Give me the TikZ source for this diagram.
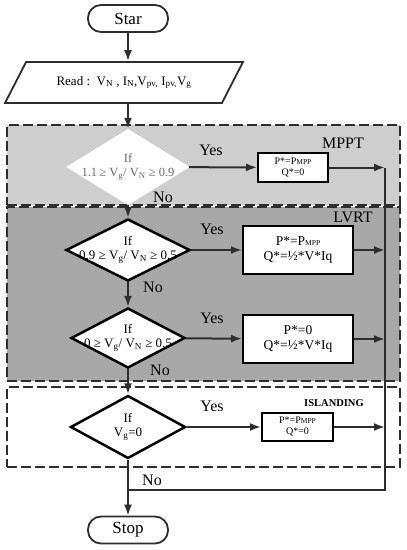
\documentclass[tikz,border=0pt]{standalone}
\usepackage{fontspec}
\setmainfont{Liberation Serif}
\usepackage{tikz}
\usetikzlibrary{positioning,arrows.meta,shapes.geometric}
\definecolor{mpptg}{RGB}{206,206,206}
\definecolor{lvrtg}{RGB}{168,168,168}
\definecolor{ln}{RGB}{45,45,45}
\definecolor{txg}{RGB}{105,105,105}
\newcommand{\sml}[1]{{\fontsize{7.5}{8}\selectfont #1}}

\begin{document}
\begin{tikzpicture}[x=1pt,y=-1pt,font=\fontsize{13}{14}\selectfont,>={Latex[length=11pt,width=8pt]},
  term/.style={draw=ln,line width=1.8pt,rounded corners=13pt,fill=white,minimum width=80pt,minimum height=27pt,font=\fontsize{17}{18}\selectfont},
  io/.style={draw=ln,line width=1.8pt,trapezium,trapezium left angle=52,trapezium right angle=128,trapezium stretches=true,minimum width=238pt,minimum height=41pt,fill=white},
  zone/.style={draw=ln,line width=1.2pt,dash pattern=on 10pt off 4pt,minimum width=393pt,inner sep=0},
  cond/.style={diamond,draw=black,line width=2.5pt,fill=white,inner sep=0},
  ctxt/.style={align=center,inner sep=0,font=\fontsize{13}{14}\selectfont},
  act/.style={draw=black,line width=2pt,fill=white,align=center,inner sep=1pt,font=\fontsize{13.5}{15}\selectfont},
  flow/.style={draw=ln,line width=2pt},
  tag/.style={font=\fontsize{16}{17}\selectfont}]
  \useasboundingbox (0,0) rectangle (407,550);
  \node[zone,fill=mpptg,minimum height=80pt] (mpptz) at (203.5,165) {};
  \node[zone,fill=lvrtg,minimum height=174pt] (lvrtz) at (203.5,294) {};
  \node[zone,fill=white,minimum height=80pt] (islz) at (203.5,427) {};
  \node[tag] (mpptl) at (343,143) {MPPT};
  \node[tag] (lvrtl) at (353,217) {LVRT};
  \node[font=\bfseries\fontsize{10.5}{11}\selectfont] (isll) at (334,403) {ISLANDING};
  \node[term] (star) at (128,18.5) {Star};
  \node[io] (read) at (124,82.5) {Read :\ \ V\textsubscript{N} , I\textsubscript{N},V\textsubscript{pv,} I\textsubscript{pv,}V\textsubscript{g}};
  \node[cond,draw=white,minimum width=120pt,minimum height=74pt,
    label={[ctxt,txg,font=\fontsize{12.5}{13.5}\selectfont]center:If\\1.1\,≥ V\textsubscript{g}/ V\textsubscript{N} ≥ 0.9}] (d1) at (128,167) {};
  \node[cond,minimum width=124pt,minimum height=62pt,
    label={[ctxt]center:If\\0.9 ≥ V\textsubscript{g}/ V\textsubscript{N} ≥ 0.5}] (d2) at (128,250) {};
  \node[cond,minimum width=114pt,minimum height=60pt,
    label={[ctxt]center:If\\0 ≥ V\textsubscript{g}/ V\textsubscript{N} ≥ 0.5}] (d3) at (128,338) {};
  \node[cond,minimum width=115pt,minimum height=63pt,
    label={[ctxt]center:If\\V\textsubscript{g}=0}] (d4) at (128,427) {};
  \node[act,minimum width=70pt,minimum height=29pt,font=\fontsize{10}{11}\selectfont] (a1) at (293,167.5) {P*=P\sml{MPP}\\Q*=0};
  \node[act,minimum width=110pt,minimum height=48pt] (a2) at (298,250) {P*=P\sml{MPP}\\Q*=½*V*Iq};
  \node[act,minimum width=110pt,minimum height=48pt] (a3) at (298,339) {P*=0\\Q*=½*V*Iq};
  \node[act,minimum width=71pt,minimum height=28pt,font=\fontsize{10}{11}\selectfont] (a4) at (297.5,427) {P*=P\sml{MPP}\\Q*=0};
  \node[term] (stop) at (128,530) {Stop};
  \coordinate (j1) at (385,167.5);
  \coordinate (jn) at (385,490);
  \coordinate (mg) at (128,490);
  \node[tag] (y1) at (211,150) {Yes};
  \node[tag] (y2) at (212,229) {Yes};
  \node[tag] (y3) at (212,318) {Yes};
  \node[tag] (y4) at (212,406) {Yes};
  \node[tag] (n1) at (163,197) {No};
  \node[tag] (n2) at (153,287) {No};
  \node[tag] (n3) at (160,370) {No};
  \node[tag] (n4) at (152,480) {No};
  \draw[flow,->] (star) -- (star |- read.north);
  \draw[flow,->] (read.south -| d1) -- (d1.north);
  \draw[flow,->] (d1) -- (d2); \draw[flow,->] (d2) -- (d3);
  \draw[flow,->] (d3) -- (d4); \draw[flow,->] (d4) -- (stop);
  \draw[flow,->] (d1) -- (a1); \draw[flow,->] (d2) -- (a2);
  \draw[flow,->] (d3) -- (a3); \draw[flow,->] (d4) -- (a4);
  \draw[flow] (j1) -- (jn) -- (mg);
  \draw[flow,->] (a1) -- (j1);
  \draw[flow,->] (a2) -- (a2 -| j1);
  \draw[flow,->] (a3) -- (a3 -| j1);
  \draw[flow,->] (a4) -- (a4 -| j1);
\end{tikzpicture}
\end{document}
